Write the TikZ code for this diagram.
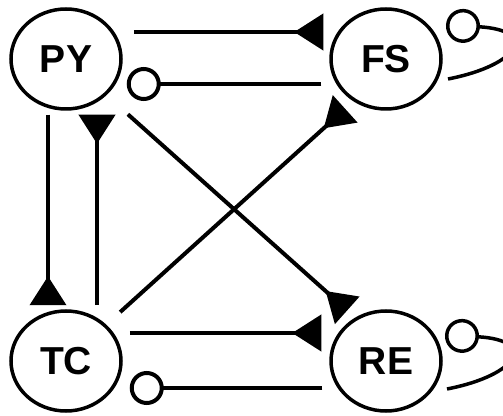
\documentclass[tikz,border=0pt]{standalone}
\usepackage{fontspec}
\setmainfont{Liberation Sans}
\usetikzlibrary{arrows.meta, shapes.geometric}
\begin{document}
\begin{tikzpicture}[x=1pt, y=1pt, line width=4pt,
        var/.style={ellipse, draw, line width=3.5pt, minimum width=110pt, minimum height=100pt, inner sep=0pt,
            font=\fontsize{39}{42}\selectfont\bfseries},
        upreg/.style={-{Triangle[reversed, length=29pt, width=36pt]}},
        downreg/.style={-{Circle[open, length=34pt]}}]
        \useasboundingbox (0, 0) rectangle (503, 415);
        \node[var] (PY) at (66, 356) {PY};
        \node[var] (FS) at (386, 356) {FS};
        \node[var] (TC) at (66, 54) {TC};
        \node[var] (RE) at (386, 54) {RE};
        \draw[upreg, shorten <=11pt, shorten >=6pt] ([yshift=27pt]PY.east) -- ([yshift=27pt]FS.west);
        \draw[downreg, shorten <=8pt, shorten >=4pt] ([yshift=-25pt]FS.west) -- ([yshift=-25pt]PY.east);
        \draw[upreg, shorten <=4pt, shorten >=4pt] ([xshift=-18pt]PY.south) -- ([xshift=-18pt]TC.north);
        \draw[upreg, shorten <=4pt, shorten >=4pt] ([xshift=31pt]TC.north) -- ([xshift=31pt]PY.south);
        \draw[upreg, shorten <=83pt, shorten >=52pt] (PY.center) -- ([yshift=16pt]RE.center);
        \draw[upreg, shorten <=73pt, shorten >=55pt] (TC.center) -- ([yshift=-13pt]FS.center);
        \draw[upreg, shorten <=7pt, shorten >=8pt] ([yshift=28pt]TC.east) -- ([yshift=28pt]RE.west);
        \draw[downreg, shorten <=7pt, shorten >=7pt] ([yshift=-27pt]RE.west) -- ([yshift=-27pt]TC.east);
        % self loops
        \draw[line width=3.5pt, {Circle[open, length=34pt]}-] ([shift={(60pt, 34pt)}]FS.center)
            .. controls +(93, -5) and +(72, 14) .. ([shift={(62pt, -20pt)}]FS.center);
        \draw[line width=3.5pt, {Circle[open, length=34pt]}-] ([shift={(59pt, 26pt)}]RE.center)
            .. controls +(93, -5) and +(72, 14) .. ([shift={(61pt, -28pt)}]RE.center);
\end{tikzpicture}
\end{document}
